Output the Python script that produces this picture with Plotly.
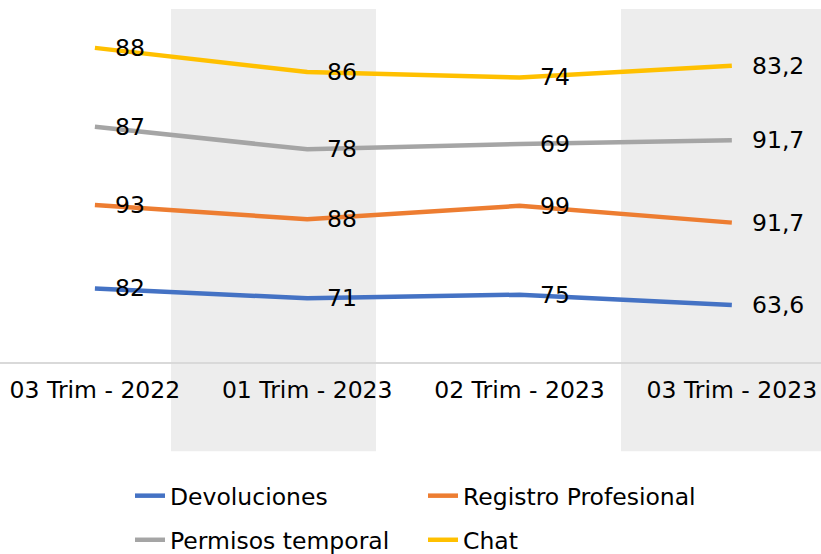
import numpy as np
import plotly.graph_objects as go

categories = ["03 Trim - 2022", "01 Trim - 2023", "02 Trim - 2023", "03 Trim - 2023"]
devoluciones = [82, 71, 75, 63.6]
registro = [93, 88, 99, 91.7]
permisos = [87, 78, 69, 91.7]
chat = [88, 86, 74, 83.2]

series = [
    ("Devoluciones", devoluciones, "#4472C4", "legend"),
    ("Registro Profesional", registro, "#ED7D31", "legend"),
    ("Permisos temporal", permisos, "#A5A5A5", "legend2"),
    ("Chat", chat, "#FFC000", "legend2"),
]

FONT = "DejaVu Sans"
FS = 23.5


def fmt(v):
    return f"{v:g}".replace(".", ",")


fig = go.Figure()
cum = np.zeros(len(categories))
annotations = []
for name, vals, color, leg in series:
    fig.add_trace(go.Scatter(
        x=categories, y=vals, name=name, mode="lines",
        stackgroup="one", fill="none",
        line=dict(color=color, width=4.5),
        legend=leg, hoverinfo="skip",
    ))
    cum = cum + np.array(vals, dtype=float)
    for c, yv, v in zip(categories, cum, vals):
        annotations.append(dict(
            x=c, y=float(yv), xref="x", yref="y", text=fmt(v),
            showarrow=False, xanchor="left", yanchor="middle", xshift=18,
            font=dict(family=FONT, size=FS, color="#000000"),
        ))

# layout geometry in pixels (vertical positions scaled to the rendered page)
W, H = 821, 562
S = H / 554.0
plot_top, plot_bottom = 3.0 * S, 361.0 * S
plot_h = plot_bottom - plot_top
bands_px = [(171, 376), (621, 821)]
band_top, band_bottom = 9.0 * S, 450.0 * S
shapes = []
for x0, x1 in bands_px:
    shapes.append(dict(
        type="rect", xref="paper", yref="paper",
        x0=x0 / W, x1=x1 / W,
        y0=(plot_bottom - band_bottom) / plot_h, y1=(plot_bottom - band_top) / plot_h,
        fillcolor="#EDEDED", line=dict(width=0), layer="below",
    ))

legend_common = dict(
    orientation="h", x=130 / W, xanchor="left", yanchor="middle",
    entrywidth=248, entrywidthmode="pixels",
    font=dict(family=FONT, size=FS, color="#000000"), bgcolor="rgba(0,0,0,0)",
    traceorder="normal",
)

fig.update_layout(
    width=W, height=H,
    margin=dict(l=0, r=0, t=plot_top, b=H - plot_bottom),
    paper_bgcolor="white", plot_bgcolor="rgba(0,0,0,0)",
    font=dict(family=FONT, size=FS, color="#000000"),
    shapes=shapes,
    annotations=annotations,
    xaxis=dict(
        type="category", range=[-0.447, 3.42], showgrid=False, zeroline=False,
        showline=True, linecolor="#D9D9D9", linewidth=1.5, ticks="",
        ticklabelstandoff=6,
        tickfont=dict(family=FONT, size=FS, color="#000000"),
        automargin=False, fixedrange=True,
    ),
    yaxis=dict(range=[0, 400], visible=False, showgrid=False, zeroline=False, fixedrange=True),
    legend=dict(legend_common, y=(plot_bottom - (496 * S - 1.5)) / plot_h),
    legend2=dict(legend_common, y=(plot_bottom - (540 * S - 1.5)) / plot_h),
    showlegend=True,
)

fig.write_html(
    "out.html",
    config={"displayModeBar": False},
    post_script="document.body.style.margin='0px';document.body.style.overflow='hidden';",
)
